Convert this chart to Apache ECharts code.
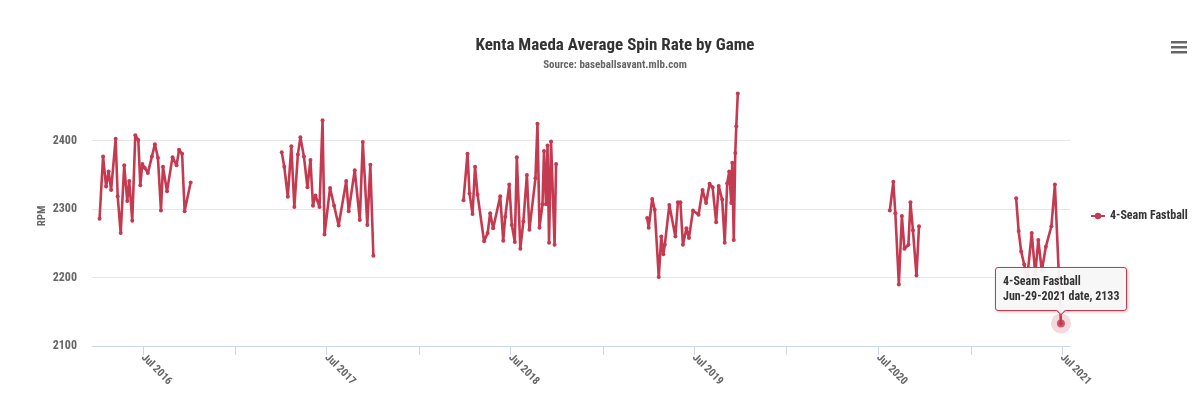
<!DOCTYPE html>
<html><head><meta charset="utf-8">
<script src="https://cdn.jsdelivr.net/npm/echarts@6/dist/echarts.min.js"></script>
<style>html,body{margin:0;padding:0;background:#fff}#chart{width:1200px;height:394px}</style>
</head><body><div id="chart"></div>
<script>
// ---------------- data ----------------
const seriesName = '4-Seam Fastball';
const dates2016 = ['2016-04-06','2016-04-13','2016-04-19','2016-04-24','2016-04-29','2016-05-08','2016-05-12','2016-05-18','2016-05-25','2016-05-31','2016-06-04','2016-06-10','2016-06-16','2016-06-22','2016-06-26','2016-06-30','2016-07-05','2016-07-11','2016-07-19','2016-07-25','2016-07-31','2016-08-06','2016-08-10','2016-08-18','2016-08-29','2016-09-06','2016-09-11','2016-09-17','2016-09-22','2016-10-04'];
const rpm2016 = [2286,2377,2333,2355,2328,2403,2319,2265,2364,2312,2341,2283,2408,2401,2335,2366,2360,2353,2377,2395,2375,2298,2362,2326,2376,2364,2387,2381,2297,2339];
const dates2017 = ['2017-04-03','2017-04-08','2017-04-15','2017-04-22','2017-04-28','2017-05-05','2017-05-10','2017-05-17','2017-05-24','2017-05-30','2017-06-04','2017-06-09','2017-06-17','2017-06-23','2017-06-27','2017-07-08','2017-07-16','2017-07-25','2017-08-09','2017-08-14','2017-08-26','2017-09-05','2017-09-11','2017-09-20','2017-09-26','2017-10-02'];
const rpm2017 = [2383,2362,2318,2392,2303,2380,2405,2377,2332,2372,2305,2320,2303,2430,2263,2331,2305,2276,2341,2297,2357,2284,2398,2277,2365,2232];
const dates2018 = ['2018-03-30','2018-04-07','2018-04-11','2018-04-17','2018-04-22','2018-04-27','2018-05-10','2018-05-17','2018-05-22','2018-05-28','2018-06-11','2018-06-17','2018-06-21','2018-06-29','2018-07-04','2018-07-10','2018-07-14','2018-07-21','2018-07-27','2018-08-03','2018-08-08','2018-08-20','2018-08-24','2018-08-28','2018-09-03','2018-09-06','2018-09-10','2018-09-13','2018-09-16','2018-09-20','2018-09-27','2018-09-30'];
const rpm2018 = [2313,2381,2323,2293,2362,2321,2253,2265,2294,2272,2319,2254,2289,2336,2277,2252,2376,2242,2282,2350,2270,2345,2425,2273,2307,2385,2307,2393,2251,2399,2248,2366];
const dates2019 = ['2019-03-30','2019-04-02','2019-04-09','2019-04-14','2019-04-22','2019-04-27','2019-05-01','2019-05-04','2019-05-13','2019-05-25','2019-05-30','2019-06-04','2019-06-09','2019-06-16','2019-06-21','2019-06-29','2019-07-10','2019-07-18','2019-07-25','2019-08-01','2019-08-07','2019-08-14','2019-08-19','2019-08-26','2019-08-31','2019-09-05','2019-09-09','2019-09-13','2019-09-15','2019-09-18','2019-09-21','2019-09-23','2019-09-26'];
const rpm2019 = [2287,2273,2315,2299,2201,2260,2234,2248,2306,2260,2310,2310,2248,2272,2258,2298,2292,2328,2309,2337,2332,2281,2334,2314,2251,2338,2355,2309,2368,2255,2382,2421,2469];
const dates2020 = ['2020-07-24','2020-07-31','2020-08-04','2020-08-11','2020-08-17','2020-08-22','2020-08-30','2020-09-03','2020-09-08','2020-09-15','2020-09-20'];
const rpm2020 = [2298,2340,2294,2190,2290,2242,2248,2310,2269,2203,2275];
const dates2021 = ['2021-04-01','2021-04-06','2021-04-11','2021-04-17','2021-04-23','2021-05-02','2021-05-09','2021-05-15','2021-05-22','2021-05-30','2021-06-10','2021-06-17','2021-06-29'];
const rpm2021 = [2316,2268,2238,2219,2200,2265,2205,2255,2210,2245,2275,2336,2133];
const tickDates = ['2016-07-01','2017-07-01','2018-07-01','2019-07-01','2020-07-01','2021-07-01'];
const tickLabels = ['Jul 2016','Jul 2017','Jul 2018','Jul 2019','Jul 2020','Jul 2021'];
const minorTickDates = ['2017-01-01','2018-01-01','2019-01-01','2020-01-01','2021-01-01'];
const yTicks = [2100, 2200, 2300, 2400];
const highlightDate = '2021-06-29';
const xRange = ['2016-03-22', '2021-07-17'];
const yRange = [2100, 2480];

// ---------------- build ----------------
const FONT = "'Roboto Condensed','DejaVu Sans Condensed','Liberation Sans Narrow',Roboto,sans-serif";
const COLOR = '#c43a50';
const MONTHS = ['Jan','Feb','Mar','Apr','May','Jun','Jul','Aug','Sep','Oct','Nov','Dec'];
function ts(s){ const p = s.split('-').map(Number); return Date.UTC(p[0], p[1]-1, p[2]); }
function fmtDate(t){ const d = new Date(t); return MONTHS[d.getUTCMonth()] + '-' + String(d.getUTCDate()).padStart(2,'0') + '-' + d.getUTCFullYear(); }

const seasons = [[dates2016,rpm2016],[dates2017,rpm2017],[dates2018,rpm2018],[dates2019,rpm2019],[dates2020,rpm2020],[dates2021,rpm2021]];
const data = [];
let hlIndex = -1, hlValue = null;
seasons.forEach((s, i) => {
  if (i > 0) {
    const prevDates = seasons[i-1][0];
    const gap = (ts(prevDates[prevDates.length-1]) + ts(s[0][0])) / 2;
    data.push([gap, '-']);
  }
  s[0].forEach((d, j) => {
    if (d === highlightDate) { hlIndex = data.length; hlValue = s[1][j]; }
    data.push([ts(d), s[1][j]]);
  });
});
const tickTs = tickDates.map(ts);
const allTickTs = tickTs.concat(minorTickDates.map(ts)).sort((a,b)=>a-b);

const chart = echarts.init(document.getElementById('chart'), null, {renderer: 'canvas'});
chart.setOption({
  animation: false,
  textStyle: {fontFamily: FONT},
  title: {
    text: 'Kenta Maeda Average Spin Rate by Game',
    subtext: 'Source: baseballsavant.mlb.com',
    left: 610, textAlign: 'center', top: 32, itemGap: 6,
    textStyle: {fontFamily: FONT, fontSize: 17, fontWeight: 'bold', color: '#333'},
    subtextStyle: {fontFamily: FONT, fontSize: 11, fontWeight: 'bold', color: '#666'}
  },
  grid: {left: 92, right: 130, top: 86, bottom: 48},
  legend: {
    data: [seriesName], orient: 'vertical', left: 1085, top: 205,
    itemWidth: 14, itemHeight: 8, itemGap: 8,
    textStyle: {fontFamily: FONT, fontSize: 12, fontWeight: 'bold', color: '#333'}
  },
  tooltip: {
    trigger: 'item', triggerOn: 'none', alwaysShowContent: true, position: 'top',
    backgroundColor: 'rgba(247,247,247,0.95)', borderColor: COLOR, borderWidth: 1,
    padding: [6, 7], extraCssText: 'box-shadow:1px 1px 3px rgba(0,0,0,0.25);border-radius:3px;line-height:15px;',
    textStyle: {fontFamily: FONT, fontSize: 12, fontWeight: 'bold', color: '#333', lineHeight: 15},
    formatter: p => p.seriesName + '<br/>' + fmtDate(p.value[0]) + ' date, ' + p.value[1]
  },
  xAxis: {
    type: 'value', min: ts(xRange[0]), max: ts(xRange[1]),
    axisLine: {lineStyle: {color: '#ccd6eb', width: 1}},
    axisTick: {show: true, customValues: allTickTs, length: 9, lineStyle: {color: '#ccd6eb'}},
    axisLabel: {
      customValues: tickTs, rotate: -45, margin: 10,
      fontFamily: FONT, fontSize: 11, fontWeight: 'bold', color: '#666',
      formatter: v => { const i = tickTs.indexOf(v); return i >= 0 ? tickLabels[i] : ''; }
    },
    splitLine: {show: false}
  },
  yAxis: {
    type: 'value', min: yRange[0], max: yRange[1], interval: 100,
    name: 'RPM', nameLocation: 'middle', nameGap: 44, nameRotate: 90, nameMoveOverlap: false,
    nameTextStyle: {fontFamily: FONT, fontSize: 11, fontWeight: 'bold', color: '#666'},
    axisLine: {show: false}, axisTick: {show: false},
    axisLabel: {showMaxLabel: false, margin: 15, fontFamily: FONT, fontSize: 12, fontWeight: 'bold', color: '#666',
      formatter: v => yTicks.indexOf(v) >= 0 ? String(v) : ''},
    splitLine: {showMinLine: false, showMaxLine: false, lineStyle: {color: '#e6e6e6'}}
  },
  series: [
    {
      name: seriesName, type: 'line', data: data, connectNulls: false,
      symbol: 'circle', symbolSize: 4, showSymbol: true,
      lineStyle: {color: COLOR, width: 2.6}, itemStyle: {color: COLOR},
      emphasis: {disabled: true}
    },
    {
      name: 'halo', type: 'scatter', silent: true, z: 1,
      data: [[ts(highlightDate), hlValue]], symbolSize: 20,
      itemStyle: {color: 'rgba(196,58,80,0.25)'}
    },
    {
      name: 'hover', type: 'scatter', silent: true, z: 3,
      data: [[ts(highlightDate), hlValue]], symbolSize: 8,
      itemStyle: {color: COLOR}
    }
  ],
  graphic: [
    {type: 'rect', left: 1171, top: 41, shape: {width: 16, height: 2.5}, style: {fill: '#666'}},
    {type: 'rect', left: 1171, top: 46, shape: {width: 16, height: 2.5}, style: {fill: '#666'}},
    {type: 'rect', left: 1171, top: 51, shape: {width: 16, height: 2.5}, style: {fill: '#666'}}
  ]
});
chart.dispatchAction({type: 'showTip', seriesIndex: 0, dataIndex: hlIndex});
</script></body></html>
